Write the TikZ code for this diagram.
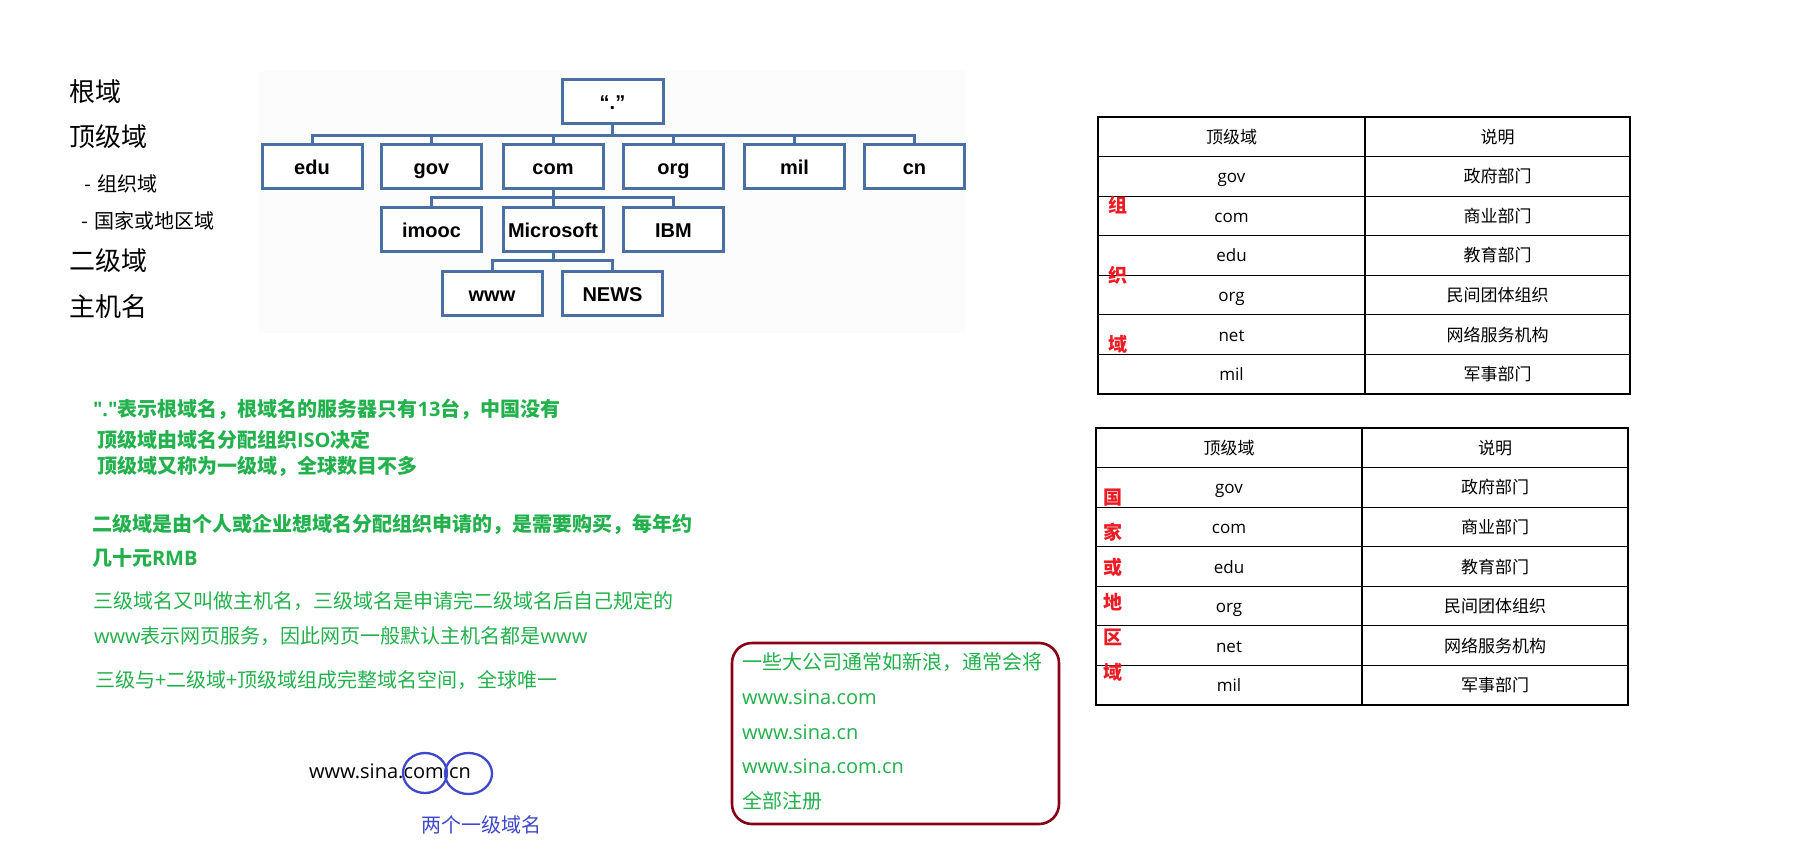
\documentclass[tikz,border=0pt]{standalone}
\usepackage{fontspec}
\setmainfont{Noto Sans CJK SC}
\newfontfamily\lat{Open Sans}
\newfontfamily\latq[Ligatures=TeXOff]{Open Sans}
\newfontfamily\arl{Liberation Sans}
\usetikzlibrary{shapes.geometric}
\definecolor{treeblue}{RGB}{74,111,163}
\definecolor{grn}{RGB}{34,177,76}
\definecolor{redt}{RGB}{237,28,36}
\definecolor{dred}{RGB}{136,0,21}
\definecolor{indig}{RGB}{63,72,204}
\definecolor{imgbg}{RGB}{252,252,252}
\newcommand{\fsz}[1]{\fontsize{#1}{#1}\selectfont}
\begin{document}
\begin{tikzpicture}[x=1pt,y=-1pt,
  txt/.style={anchor=base west, inner sep=0pt, outer sep=0pt},
  lbl/.style={txt, font=\fsz{26}},
  sublbl/.style={txt, font=\fsz{20}},
  gb/.style={txt, text=grn, font=\bfseries\fsz{20}},
  gn/.style={txt, text=grn, font=\fsz{20}},
  tbox/.style={draw=treeblue, line width=3pt, minimum width=100pt, minimum height=44pt, inner sep=0pt, text height=18pt, text depth=2pt, fill=white, font=\arl\bfseries\fsz{20}},
  conn/.style={draw=treeblue, line width=3pt},
  cellc/.style={anchor=base, inner sep=0pt, font=\fsz{17}},
  celll/.style={anchor=base, inner sep=0pt, font=\lat\fsz{17}},
  redlab/.style={anchor=base, inner sep=0pt, text=redt, font=\bfseries\fsz{19}},
  gridline/.style={line width=1.2pt, draw=black},
  ring/.style={draw=indig, line width=2.3pt, ellipse, inner sep=0pt}]
\useasboundingbox (0,0) rectangle (1817,861);
\fill[white] (0,0) rectangle (1817,861);

% left labels
\node[lbl] (l1) at (69,102) {根域};
\node[lbl] (l2) at (69,147) {顶级域};
\node[sublbl] (l3) at (84,191.6) {-\hspace{7pt}组织域};
\node[sublbl] (l4) at (81,228.6) {-\hspace{7pt}国家或地区域};
\node[lbl] (l5) at (69,270) {二级域};
\node[lbl] (l6) at (69,316) {主机名};

% tree
\fill[imgbg] (258,70) rectangle (966,333);
\node[tbox, minimum width=101pt] (root) at (612.5,101.5) {“.”};
\node[tbox] (edu) at (312,166.5) {edu};
\node[tbox] (gov) at (431.5,166.5) {gov};
\node[tbox] (com) at (553,166.5) {com};
\node[tbox] (org) at (673.5,166.5) {org};
\node[tbox] (mil) at (794.5,166.5) {mil};
\node[tbox] (cn) at (914.5,166.5) {cn};
\node[tbox] (imooc) at (431.5,229.5) {imooc};
\node[tbox] (ms) at (553,229.5) {Microsoft};
\node[tbox] (ibm) at (673.5,229.5) {IBM};
\node[tbox] (www) at (492,293.5) {www};
\node[tbox] (news) at (612.5,293.5) {NEWS};
\coordinate (bus1) at (0,136);
\coordinate (bus2) at (0,198);
\coordinate (bus3) at (0,260);
\foreach \c in {edu,gov,com,org,mil,cn}
  \draw[conn] (root.south) -- (root.south |- bus1) -| (\c.north);
\foreach \c in {imooc,ms,ibm}
  \draw[conn] (com.south) -- (com.south |- bus2) -| (\c.north);
\foreach \c in {www,news}
  \draw[conn] (ms.south) -- (ms.south |- bus3) -| (\c.north);

% green notes
\node[gb] (g1) at (93,416.6) {{\latq\bfseries"."}表示根域名，根域名的服务器只有{\lat\bfseries 13}台，中国没有};
\node[gb] (g2) at (97,447.6) {顶级域由域名分配组织{\lat\bfseries ISO}决定};
\node[gb] (g3) at (97,473.6) {顶级域又称为一级域，全球数目不多};
\node[gb] (g4) at (92,531.6) {二级域是由个人或企业想域名分配组织申请的，是需要购买，每年约};
\node[gb] (g5) at (92,565.6) {几十元{\lat\bfseries RMB}};
\node[gn] (g6) at (93,608.6) {三级域名又叫做主机名，三级域名是申请完二级域名后自己规定的};
\node[gn] (g7) at (94,643.6) {{\lat www}表示网页服务，因此网页一般默认主机名都是{\lat www}};
\node[gn] (g8) at (95,687.6) {三级与+二级域+顶级域组成完整域名空间，全球唯一};

% sina example
\node[txt, font=\lat\fsz{20}] (sina) at (309,778) {www.sina.com.cn};
\node[ring, minimum width=44pt, minimum height=40pt] (e1) at (425,773) {};
\node[ring, minimum width=47pt, minimum height=41pt] (e2) at (468.5,773.5) {};
\node[txt, text=indig, font=\fsz{20}] (two) at (421,832.5) {两个一级域名};

% rounded box
\draw[dred, line width=2.6pt, rounded corners=20pt] (732,643) rectangle (1059,824);
\node[gn] (b1) at (742,669.6) {一些大公司通常如新浪，通常会将};
\node[gn, font=\lat\fsz{20}] (b2) at (742,704.3) {www.sina.com};
\node[gn, font=\lat\fsz{20}] (b3) at (742,739.1) {www.sina.cn};
\node[gn, font=\lat\fsz{20}] (b4) at (742,773.8) {www.sina.com.cn};
\node[gn] (b5) at (742,808.6) {全部注册};

% table 1
\draw[gridline] (1098,117) rectangle (1630,394);
\draw[gridline] (1365,117) -- (1365,394);
\foreach \i in {1,...,6}
  \draw[gridline] (1098,{117+\i*39.571}) -- (1630,{117+\i*39.571});
\node[cellc] (h1a) at (1231.5,{117+0.5*39.571+6.5}) {顶级域};
\node[cellc] (h1b) at (1497.5,{117+0.5*39.571+6.5}) {说明};
\foreach \a/\b [count=\i] in {gov/政府部门,com/商业部门,edu/教育部门,org/民间团体组织,net/网络服务机构,mil/军事部门}{
  \node[celll] (ta\i) at (1231.5,{117+(\i+0.5)*39.571+6.5}) {\a};
  \node[cellc] (tb\i) at (1497.5,{117+(\i+0.5)*39.571+6.5}) {\b};
}
\node[redlab] (r1) at (1118,212.2) {组};
\node[redlab] (r2) at (1118,282.2) {织};
\node[redlab] (r3) at (1118,351.2) {域};

% table 2
\draw[gridline] (1096,428) rectangle (1628,705);
\draw[gridline] (1362,428) -- (1362,705);
\foreach \i in {1,...,6}
  \draw[gridline] (1096,{428+\i*39.571}) -- (1628,{428+\i*39.571});
\node[cellc] (h2a) at (1229,{428+0.5*39.571+6.5}) {顶级域};
\node[cellc] (h2b) at (1495,{428+0.5*39.571+6.5}) {说明};
\foreach \a/\b [count=\i] in {gov/政府部门,com/商业部门,edu/教育部门,org/民间团体组织,net/网络服务机构,mil/军事部门}{
  \node[celll] (sa\i) at (1229,{428+(\i+0.5)*39.571+6.5}) {\a};
  \node[cellc] (sb\i) at (1495,{428+(\i+0.5)*39.571+6.5}) {\b};
}
\foreach \ch [count=\i] in {国,家,或,地,区,域}
  \node[redlab] (q\i) at (1113,{497+(\i-1)*35+7.2}) {\ch};
\end{tikzpicture}
\end{document}
